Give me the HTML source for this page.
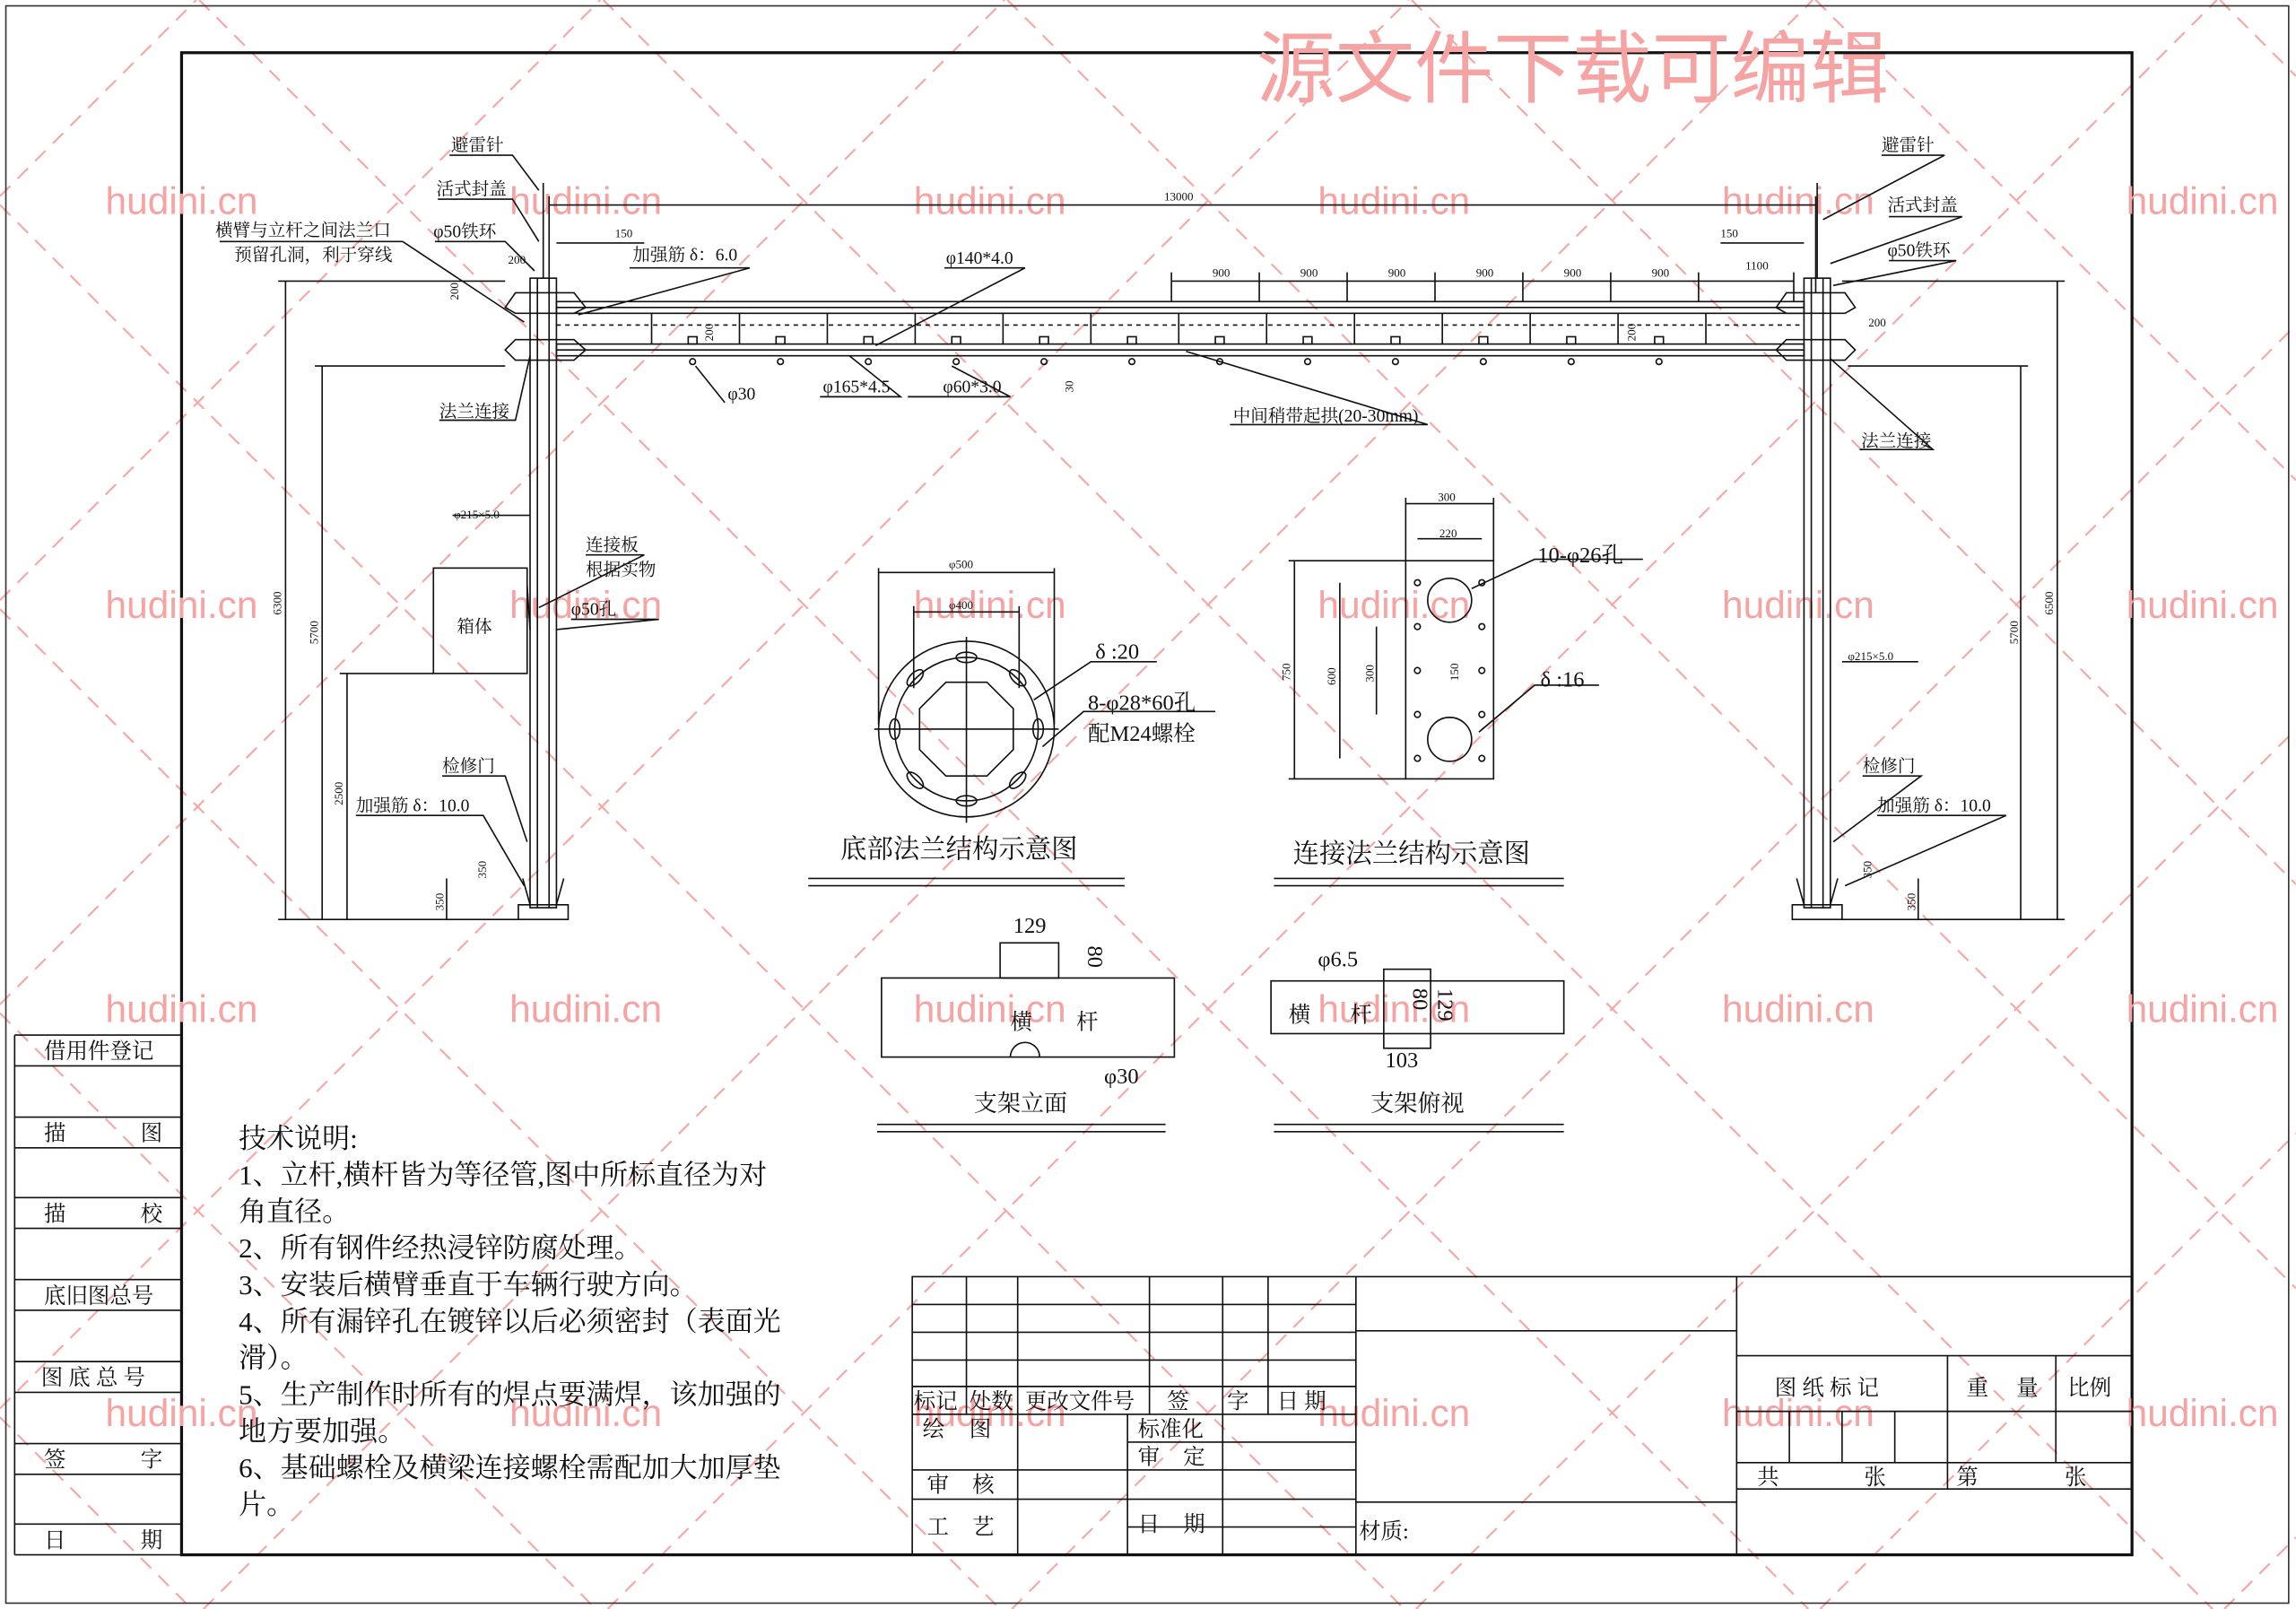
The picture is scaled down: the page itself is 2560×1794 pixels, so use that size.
<!DOCTYPE html>
<html><head><meta charset="utf-8"><style>
html,body{margin:0;padding:0;background:#fff;width:2560px;height:1794px;overflow:hidden;}
svg{display:block}
text{font-family:"Liberation Serif","Noto Serif CJK SC","Noto Sans CJK SC",serif;fill:#111}
.wm text{font-family:"Liberation Sans",sans-serif;fill:#f6a3a3;font-size:26px}
.s{font-size:12px}.m{font-size:15px}.l{font-size:18px}.xs{font-size:8px}
.tn text{font-size:19px}
</style></head><body>
<svg width="2560" height="1794" viewBox="0 0 1568 1099" preserveAspectRatio="none" xmlns="http://www.w3.org/2000/svg">
<rect x="0" y="0" width="1568" height="1099" fill="#fff"/>
<g stroke="#f7a5a5" stroke-width="1.3" stroke-dasharray="10,7" fill="none">
<line x1="0" y1="134" x2="134" y2="0"/><line x1="0" y1="410" x2="410" y2="0"/><line x1="0" y1="686" x2="686" y2="0"/><line x1="0" y1="962" x2="962" y2="0"/><line x1="139" y1="1099" x2="1238" y2="0"/><line x1="415" y1="1099" x2="1514" y2="0"/><line x1="691" y1="1099" x2="1568" y2="222"/><line x1="967" y1="1099" x2="1568" y2="498"/><line x1="1243" y1="1099" x2="1568" y2="774"/><line x1="1519" y1="1099" x2="1568" y2="1050"/>
<line x1="136" y1="0" x2="1235" y2="1099"/><line x1="412" y1="0" x2="1511" y2="1099"/><line x1="688" y1="0" x2="1568" y2="880"/><line x1="964" y1="0" x2="1568" y2="604"/><line x1="1240" y1="0" x2="1568" y2="328"/><line x1="1516" y1="0" x2="1568" y2="52"/><line x1="0" y1="140" x2="959" y2="1099"/><line x1="0" y1="416" x2="683" y2="1099"/><line x1="0" y1="692" x2="407" y2="1099"/><line x1="0" y1="968" x2="131" y2="1099"/>
</g>
<rect x="4" y="4" width="1559" height="1091" fill="none" stroke="#333" stroke-width="1"/>
<rect x="124" y="36" width="1332" height="1026" fill="none" stroke="#111" stroke-width="2"/>
<g stroke="#111" stroke-width="1" fill="none">
<line x1="10" y1="707" x2="10" y2="1062"/><line x1="10" y1="1062" x2="124" y2="1062"/>
<line x1="10" y1="707" x2="124" y2="707"/><line x1="10" y1="728" x2="124" y2="728"/>
<line x1="10" y1="763" x2="124" y2="763"/><line x1="10" y1="784" x2="124" y2="784"/>
<line x1="10" y1="818" x2="124" y2="818"/><line x1="10" y1="839" x2="124" y2="839"/>
<line x1="10" y1="874" x2="124" y2="874"/><line x1="10" y1="895" x2="124" y2="895"/>
<line x1="10" y1="930" x2="124" y2="930"/><line x1="10" y1="951" x2="124" y2="951"/>
<line x1="10" y1="986" x2="124" y2="986"/><line x1="10" y1="1007" x2="124" y2="1007"/>
<line x1="10" y1="1041" x2="124" y2="1041"/>
</g>
<g class="m">
<text x="30" y="723">借用件登记</text><text x="30" y="779">描</text><text x="96" y="779">图</text>
<text x="30" y="834">描</text><text x="96" y="834">校</text><text x="30" y="890">底旧图总号</text>
<text x="28" y="946">图 底 总 号</text><text x="30" y="1002">签</text><text x="96" y="1002">字</text>
<text x="30" y="1057">日</text><text x="96" y="1057">期</text>
</g>
<g class="wm">
<text x="72" y="146">hudini.cn</text><text x="348" y="146">hudini.cn</text><text x="624" y="146">hudini.cn</text><text x="900" y="146">hudini.cn</text><text x="1176" y="146">hudini.cn</text><text x="1452" y="146">hudini.cn</text>
<text x="72" y="422">hudini.cn</text><text x="348" y="422">hudini.cn</text><text x="624" y="422">hudini.cn</text><text x="900" y="422">hudini.cn</text><text x="1176" y="422">hudini.cn</text><text x="1452" y="422">hudini.cn</text>
<text x="72" y="698">hudini.cn</text><text x="348" y="698">hudini.cn</text><text x="624" y="698">hudini.cn</text><text x="900" y="698">hudini.cn</text><text x="1176" y="698">hudini.cn</text><text x="1452" y="698">hudini.cn</text>
<text x="72" y="974">hudini.cn</text><text x="348" y="974">hudini.cn</text><text x="624" y="974">hudini.cn</text><text x="900" y="974">hudini.cn</text><text x="1176" y="974">hudini.cn</text><text x="1452" y="974">hudini.cn</text>
</g>
<text x="858" y="66" style="font-size:54px;fill:#f6a3a3;font-family:'Noto Sans CJK SC',sans-serif">源文件下载可编辑</text>

<g stroke="#111" stroke-width="1" fill="none">
<rect x="362" y="190" width="18" height="430"/><line x1="367" y1="190" x2="367" y2="620"/><line x1="375" y1="190" x2="375" y2="620"/>
<rect x="1232" y="190" width="18" height="430"/><line x1="1237" y1="190" x2="1237" y2="620"/><line x1="1245" y1="190" x2="1245" y2="620"/>
<rect x="354" y="618" width="34" height="10"/><rect x="1224" y="618" width="34" height="10"/>
<line x1="357" y1="600" x2="362" y2="618"/><line x1="385" y1="600" x2="380" y2="618"/>
<line x1="1227" y1="600" x2="1232" y2="618"/><line x1="1255" y1="600" x2="1250" y2="618"/>
<rect x="380" y="206" width="852" height="8"/><rect x="380" y="235" width="852" height="8"/>
<line x1="380" y1="210" x2="1232" y2="210"/><line x1="380" y1="239" x2="1232" y2="239"/>
<line x1="380" y1="222" x2="1232" y2="222" stroke-dasharray="3,3"/>
<path d="M352 200 L392 200 L400 210 L392 214 L352 214 L345 210 Z"/><path d="M352 232 L392 232 L400 239 L392 246 L352 246 L345 239 Z"/>
<path d="M1220 200 L1260 200 L1267 210 L1260 214 L1220 214 L1213 210 Z"/><path d="M1220 232 L1260 232 L1267 239 L1260 246 L1220 246 L1213 239 Z"/>
<g>
<line x1="445" y1="214" x2="445" y2="235"/><line x1="505" y1="214" x2="505" y2="235"/><line x1="565" y1="214" x2="565" y2="235"/><line x1="625" y1="214" x2="625" y2="235"/><line x1="685" y1="214" x2="685" y2="235"/><line x1="745" y1="214" x2="745" y2="235"/><line x1="805" y1="214" x2="805" y2="235"/><line x1="865" y1="214" x2="865" y2="235"/><line x1="925" y1="214" x2="925" y2="235"/><line x1="985" y1="214" x2="985" y2="235"/><line x1="1045" y1="214" x2="1045" y2="235"/><line x1="1105" y1="214" x2="1105" y2="235"/><line x1="1165" y1="214" x2="1165" y2="235"/>
</g>
<g>
<rect x="470" y="230" width="6" height="5"/><rect x="530" y="230" width="6" height="5"/><rect x="590" y="230" width="6" height="5"/><rect x="650" y="230" width="6" height="5"/><rect x="710" y="230" width="6" height="5"/><rect x="770" y="230" width="6" height="5"/><rect x="830" y="230" width="6" height="5"/><rect x="890" y="230" width="6" height="5"/><rect x="950" y="230" width="6" height="5"/><rect x="1010" y="230" width="6" height="5"/><rect x="1070" y="230" width="6" height="5"/><rect x="1130" y="230" width="6" height="5"/>
<circle cx="473" cy="247" r="2"/><circle cx="533" cy="247" r="2"/><circle cx="593" cy="247" r="2"/><circle cx="653" cy="247" r="2"/><circle cx="713" cy="247" r="2"/><circle cx="773" cy="247" r="2"/><circle cx="833" cy="247" r="2"/><circle cx="893" cy="247" r="2"/><circle cx="953" cy="247" r="2"/><circle cx="1013" cy="247" r="2"/><circle cx="1073" cy="247" r="2"/><circle cx="1133" cy="247" r="2"/>
</g>
<line x1="371" y1="125" x2="371" y2="190"/><line x1="1241" y1="125" x2="1241" y2="190"/>
<line x1="375" y1="140" x2="1240" y2="140"/><line x1="375" y1="134" x2="375" y2="200"/><line x1="1240" y1="134" x2="1240" y2="200"/>
<line x1="380" y1="166" x2="440" y2="166"/><line x1="1175" y1="166" x2="1232" y2="166"/>
<line x1="800" y1="192" x2="1225" y2="192"/>
<line x1="800" y1="186" x2="800" y2="206"/><line x1="860" y1="186" x2="860" y2="206"/><line x1="920" y1="186" x2="920" y2="206"/><line x1="980" y1="186" x2="980" y2="206"/><line x1="1040" y1="186" x2="1040" y2="206"/><line x1="1100" y1="186" x2="1100" y2="206"/><line x1="1160" y1="186" x2="1160" y2="206"/><line x1="1225" y1="186" x2="1225" y2="206"/>
<line x1="195" y1="192" x2="195" y2="628"/><line x1="190" y1="192" x2="345" y2="192"/><line x1="190" y1="628" x2="354" y2="628"/>
<line x1="220" y1="250" x2="220" y2="628"/><line x1="215" y1="250" x2="345" y2="250"/>
<line x1="237" y1="460" x2="237" y2="628"/><line x1="232" y1="460" x2="296" y2="460"/>
<line x1="1405" y1="192" x2="1405" y2="628"/><line x1="1258" y1="192" x2="1410" y2="192"/><line x1="1258" y1="628" x2="1410" y2="628"/>
<line x1="1380" y1="250" x2="1380" y2="628"/><line x1="1262" y1="250" x2="1385" y2="250"/>
<line x1="305" y1="600" x2="305" y2="628"/><line x1="1310" y1="600" x2="1310" y2="628"/>
<rect x="296" y="388" width="64" height="72"/>
<line x1="360" y1="400" x2="362" y2="430"/>
<polyline points="307,106 350,106 368,130"/><polyline points="299,136 350,136 368,165"/>
<polyline points="297,165 345,165 365,185"/><polyline points="150,165 275,165 358,220"/>
<polyline points="1285,106 1328,106 1245,150"/><polyline points="1290,148 1340,148 1250,180"/><polyline points="1290,178 1336,178 1252,195"/>
<polyline points="430,183 512,183 395,215"/><polyline points="645,183 700,183 598,236"/>
<polyline points="300,287 352,287 362,243"/><polyline points="1270,307 1320,307 1250,245"/>
<polyline points="495,275 475,250"/><polyline points="560,271 615,271 580,243"/><polyline points="620,271 690,271 650,250"/>
<polyline points="840,290 975,290 810,240"/>
<polyline points="400,379 440,379 368,415"/><polyline points="390,423 450,423 380,430"/>
<polyline points="302,530 345,530 360,575"/><polyline points="1272,530 1312,530 1252,575"/>
<polyline points="243,557 330,557 358,605"/><polyline points="1282,557 1370,557 1260,605"/>
<line x1="309" y1="352" x2="362" y2="352"/><line x1="1258" y1="452" x2="1310" y2="452"/>
</g>
<g class="xs">
<text x="795" y="137">13000</text><text x="420" y="162">150</text><text x="1175" y="162">150</text>
<text x="828" y="189">900</text><text x="888" y="189">900</text><text x="948" y="189">900</text><text x="1008" y="189">900</text><text x="1068" y="189">900</text><text x="1128" y="189">900</text><text x="1192" y="184">1100</text>
<text x="1276" y="223">200</text><text x="347" y="180">200</text><text x="310" y="354">φ215×5.0</text><text x="1262" y="451">φ215×5.0</text>
</g>
<g class="xs">
<text transform="translate(192,420) rotate(-90)">6300</text><text transform="translate(217,440) rotate(-90)">5700</text><text transform="translate(234,550) rotate(-90)">2500</text>
<text transform="translate(1402,420) rotate(-90)">6500</text><text transform="translate(1378,440) rotate(-90)">5700</text>
<text transform="translate(313,205) rotate(-90)">200</text><text transform="translate(487,233) rotate(-90)">200</text><text transform="translate(1117,233) rotate(-90)">200</text>
<text transform="translate(733,268) rotate(-90)">30</text><text transform="translate(332,600) rotate(-90)">350</text><text transform="translate(303,622) rotate(-90)">350</text>
<text transform="translate(1278,600) rotate(-90)">350</text><text transform="translate(1308,622) rotate(-90)">350</text>
</g>
<g class="s">
<text x="308" y="103">避雷针</text><text x="298" y="133">活式封盖</text><text x="296" y="162">φ50铁环</text>
<text x="147" y="161">横臂与立杆之间法兰口</text><text x="160" y="178">预留孔洞，利于穿线</text>
<text x="432" y="178">加强筋 δ：6.0</text><text x="646" y="180">φ140*4.0</text>
<text x="300" y="285">法兰连接</text><text x="497" y="273">φ30</text><text x="562" y="268">φ165*4.5</text><text x="644" y="268">φ60*3.0</text>
<text x="842" y="288">中间稍带起拱(20-30mm)</text>
<text x="1285" y="103">避雷针</text><text x="1289" y="144">活式封盖</text><text x="1289" y="175">φ50铁环</text><text x="1271" y="305">法兰连接</text>
<text x="400" y="376">连接板</text><text x="400" y="393">根据实物</text><text x="390" y="420">φ50孔</text><text x="312" y="432">箱体</text>
<text x="302" y="527">检修门</text><text x="243" y="554">加强筋 δ：10.0</text>
<text x="1272" y="527">检修门</text><text x="1282" y="554">加强筋 δ：10.0</text>
</g>

<g stroke="#111" stroke-width="1" fill="none">
<circle cx="660" cy="498" r="60"/><circle cx="660" cy="498" r="49"/>
<polygon points="646,466 674,466 692,484 692,512 674,530 646,530 628,512 628,484"/>
<line x1="660" y1="435" x2="660" y2="562"/><line x1="597" y1="498" x2="723" y2="498"/>
<line x1="600" y1="388" x2="600" y2="495"/><line x1="720" y1="388" x2="720" y2="495"/><line x1="600" y1="391" x2="720" y2="391"/>
<line x1="624" y1="418" x2="696" y2="418"/><line x1="624" y1="414" x2="624" y2="470"/><line x1="696" y1="414" x2="696" y2="470"/>
<ellipse cx="660" cy="449" rx="7" ry="3.5"/><ellipse cx="660" cy="547" rx="7" ry="3.5"/>
<ellipse cx="611" cy="498" rx="3.5" ry="7"/><ellipse cx="709" cy="498" rx="3.5" ry="7"/>
<ellipse cx="625" cy="463" rx="7" ry="3.5" transform="rotate(-45 625 463)"/><ellipse cx="695" cy="463" rx="7" ry="3.5" transform="rotate(45 695 463)"/>
<ellipse cx="625" cy="533" rx="7" ry="3.5" transform="rotate(45 625 533)"/><ellipse cx="695" cy="533" rx="7" ry="3.5" transform="rotate(-45 695 533)"/>
<polyline points="706,478 745,452 790,452"/><polyline points="712,510 740,486 830,486"/>
<line x1="552" y1="600" x2="768" y2="600"/><line x1="552" y1="605" x2="768" y2="605"/>
<rect x="960" y="383" width="60" height="149"/>
<circle cx="990" cy="410" r="15"/><circle cx="990" cy="505" r="15"/>
<circle cx="968" cy="398" r="2"/><circle cx="1012" cy="398" r="2"/><circle cx="968" cy="428" r="2"/><circle cx="1012" cy="428" r="2"/><circle cx="968" cy="458" r="2"/><circle cx="1012" cy="458" r="2"/><circle cx="968" cy="488" r="2"/><circle cx="1012" cy="488" r="2"/><circle cx="968" cy="518" r="2"/><circle cx="1012" cy="518" r="2"/>
<line x1="960" y1="344" x2="1020" y2="344"/><line x1="960" y1="340" x2="960" y2="383"/><line x1="1020" y1="340" x2="1020" y2="383"/>
<line x1="968" y1="368" x2="1012" y2="368"/>
<line x1="880" y1="383" x2="960" y2="383"/><line x1="880" y1="532" x2="960" y2="532"/><line x1="884" y1="383" x2="884" y2="532"/>
<line x1="915" y1="398" x2="915" y2="518"/><line x1="940" y1="428" x2="940" y2="488"/>
<polyline points="1005,402 1048,382 1122,382"/><polyline points="1010,500 1048,468 1092,468"/>
<line x1="870" y1="600" x2="1068" y2="600"/><line x1="870" y1="605" x2="1068" y2="605"/>
<rect x="602" y="668" width="200" height="54"/><rect x="683" y="644" width="40" height="24"/>
<path d="M690 722 A10 10 0 0 1 710 722"/>
<line x1="599" y1="768" x2="796" y2="768"/><line x1="599" y1="773" x2="796" y2="773"/>
<rect x="868" y="670" width="200" height="36"/><rect x="945" y="662" width="32" height="54"/>
<line x1="870" y1="768" x2="1068" y2="768"/><line x1="870" y1="773" x2="1068" y2="773"/>
</g>
<g class="xs"><text x="648" y="388">φ500</text><text x="648" y="416">φ400</text><text x="982" y="342">300</text><text x="983" y="367">220</text>
<text transform="translate(881,465) rotate(-90)">750</text><text transform="translate(912,468) rotate(-90)">600</text><text transform="translate(938,466) rotate(-90)">300</text><text transform="translate(996,465) rotate(-90)">150</text></g>
<g style="font-size:15px">
<text x="748" y="450">δ :20</text><text x="743" y="485">8-φ28*60孔</text><text x="743" y="506">配M24螺栓</text>
<text x="1050" y="384">10-φ26孔</text><text x="1052" y="469">δ :16</text>
<text x="692" y="637">129</text><text transform="translate(743,646) rotate(90)">80</text>
<text x="690" y="703">横</text><text x="735" y="703">杆</text><text x="754" y="740">φ30</text>
<text x="900" y="660">φ6.5</text><text x="880" y="698">横</text><text x="922" y="698">杆</text>
<text transform="translate(965,675) rotate(90)">80</text><text transform="translate(982,675) rotate(90)">129</text><text x="946" y="729">103</text>
</g>
<g class="l"><text x="574" y="586">底部法兰结构示意图</text><text x="883" y="589">连接法兰结构示意图</text>
<text x="665" y="759" style="font-size:16px">支架立面</text><text x="936" y="759" style="font-size:16px">支架俯视</text></g>

<g class="tn">
<text x="163" y="784">技术说明:</text>
<text x="163" y="809">1、立杆,横杆皆为等径管,图中所标直径为对</text>
<text x="163" y="834">角直径。</text>
<text x="163" y="859">2、所有钢件经热浸锌防腐处理。</text>
<text x="163" y="884">3、安装后横臂垂直于车辆行驶方向。</text>
<text x="163" y="909">4、所有漏锌孔在镀锌以后必须密封（表面光</text>
<text x="163" y="934">滑）。</text>
<text x="163" y="959">5、生产制作时所有的焊点要满焊，该加强的</text>
<text x="163" y="984">地方要加强。</text>
<text x="163" y="1009">6、基础螺栓及横梁连接螺栓需配加大加厚垫</text>
<text x="163" y="1034">片。</text>
</g>

<g stroke="#111" stroke-width="1" fill="none">
<rect x="623" y="872" width="833" height="190"/>
<line x1="623" y1="891" x2="926" y2="891"/><line x1="623" y1="910" x2="926" y2="910"/><line x1="623" y1="929" x2="926" y2="929"/><line x1="623" y1="947" x2="926" y2="947"/><line x1="623" y1="966" x2="926" y2="966"/>
<line x1="660" y1="872" x2="660" y2="966"/><line x1="695" y1="872" x2="695" y2="1062"/><line x1="785" y1="872" x2="785" y2="966"/><line x1="835" y1="872" x2="835" y2="1062"/><line x1="866" y1="872" x2="866" y2="966"/>
<line x1="926" y1="872" x2="926" y2="1062"/><line x1="770" y1="966" x2="770" y2="1062"/>
<line x1="623" y1="1004" x2="926" y2="1004"/><line x1="623" y1="1024" x2="926" y2="1024"/>
<line x1="770" y1="985" x2="926" y2="985"/><line x1="770" y1="1043" x2="926" y2="1043"/>
<line x1="926" y1="909" x2="1186" y2="909"/><line x1="926" y1="1026" x2="1186" y2="1026"/>
<line x1="1186" y1="872" x2="1186" y2="1062"/>
<line x1="1186" y1="926" x2="1456" y2="926"/><line x1="1186" y1="964" x2="1456" y2="964"/><line x1="1186" y1="999" x2="1456" y2="999"/><line x1="1186" y1="1017" x2="1456" y2="1017"/>
<line x1="1222" y1="964" x2="1222" y2="999"/><line x1="1258" y1="964" x2="1258" y2="999"/><line x1="1294" y1="964" x2="1294" y2="999"/>
<line x1="1330" y1="926" x2="1330" y2="1017"/><line x1="1404" y1="926" x2="1404" y2="999"/>
</g>
<g class="m">
<text x="624" y="962">标记</text><text x="662" y="962">处数</text><text x="700" y="962">更改文件号</text><text x="797" y="962">签</text><text x="838" y="962">字</text><text x="872" y="962">日 期</text>
<text x="630" y="981">绘</text><text x="662" y="981">图</text><text x="777" y="981">标准化</text>
<text x="777" y="1000">审</text><text x="808" y="1000">定</text>
<text x="633" y="1019">审</text><text x="664" y="1019">核</text>
<text x="633" y="1048">工</text><text x="664" y="1048">艺</text><text x="777" y="1046">日</text><text x="808" y="1046">期</text>
<text x="928" y="1051">材质:</text>
<text x="1212" y="953">图 纸 标 记</text><text x="1343" y="953">重</text><text x="1377" y="953">量</text><text x="1412" y="953">比例</text>
<text x="1200" y="1014">共</text><text x="1273" y="1014">张</text><text x="1336" y="1014">第</text><text x="1410" y="1014">张</text>
</g>
</svg>
</body></html>
